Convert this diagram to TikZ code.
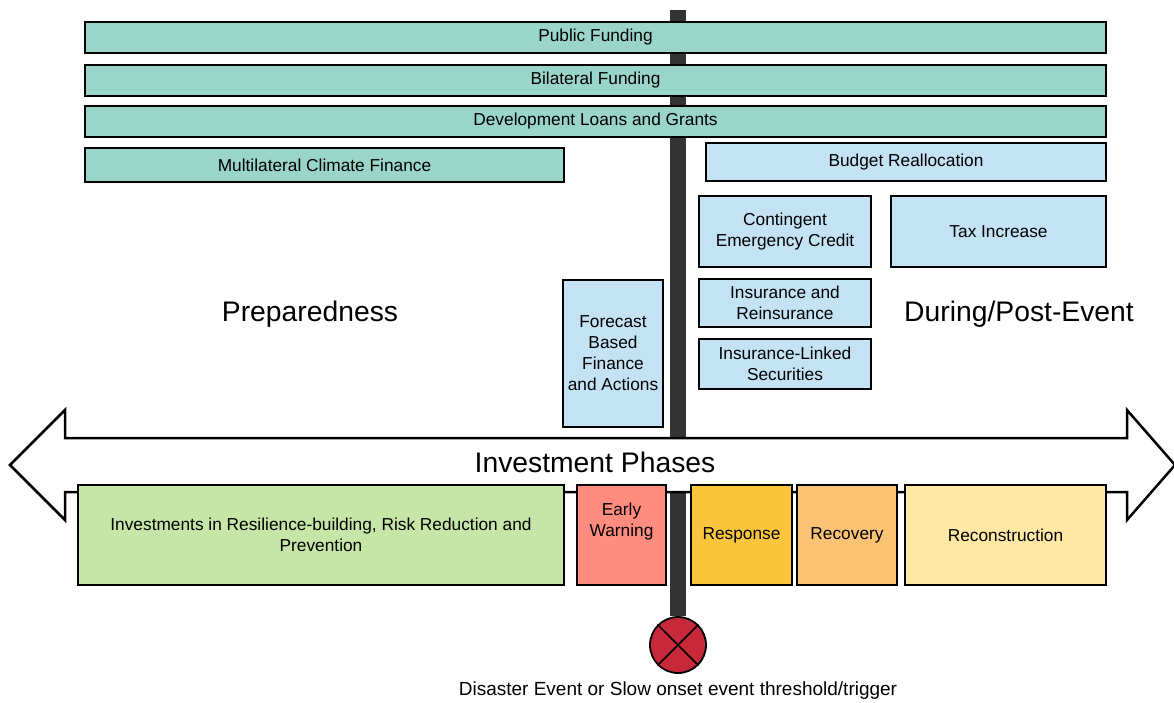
\documentclass[tikz,border=0pt]{standalone}
\usepackage{fontspec}
\setmainfont{Liberation Sans}
\usetikzlibrary{positioning}

\definecolor{fundteal}{HTML}{9AD5CA}
\definecolor{instblue}{HTML}{C3E3F5}
\definecolor{prevgreen}{HTML}{C5E6A7}
\definecolor{warnred}{HTML}{FF8C7F}
\definecolor{respyellow}{HTML}{FBC43D}
\definecolor{recovorange}{HTML}{FDC374}
\definecolor{reconyellow}{HTML}{FFE8A4}
\definecolor{bargray}{HTML}{333333}
\definecolor{triggerred}{HTML}{C7283A}

\newcommand{\boxfont}{\fontsize{17.3}{21}\selectfont}
\newcommand{\bigfont}{\fontsize{28.3}{32}\selectfont}

\begin{document}
\begin{tikzpicture}[x=1pt, y=-1pt,
    fundbar/.style={draw, line width=2.5pt, fill=fundteal, inner sep=0pt, font=\boxfont, align=center},
    instbox/.style={fundbar, fill=instblue},
    phasebox/.style={fundbar, minimum height=100pt}]
    \useasboundingbox (0,0) rectangle (1174,702);
    % Trigger
    \coordinate (bartop) at (678,10);
    \node[draw, circle, line width=1.8pt, fill=triggerred, minimum size=56pt, inner sep=0pt] (trigger) at (678,645) {};
    \draw[line width=1.6pt] (trigger.45) -- (trigger.225) (trigger.135) -- (trigger.315);
    \draw[bargray, line width=16pt] (bartop) -- (trigger.north);
    % Phase arrow
    \draw[line width=2.5pt, fill=white, line join=miter] (10,465) -- (65,410) -- (65,438) -- (1127,438) -- (1127,410)
        -- (1175,465) -- (1127,520) -- (1127,492) -- (65,492) -- (65,520) -- cycle;
    \node[font=\bigfont] (phases) at (595,462) {Investment Phases};
    % Funding sources
    \node[fundbar, minimum width=1021pt, minimum height=31pt] (pub) at (595.5,37.5) {Public Funding};
    \node[fundbar, minimum width=1021pt, minimum height=31pt] (bil) at (595.5,80.5) {Bilateral Funding};
    \node[fundbar, minimum width=1021pt, minimum height=31pt] (dev) at (595.5,121.5) {Development Loans and Grants};
    \node[fundbar, minimum width=479pt, minimum height=34pt] (multi) at (324.5,165) {Multilateral Climate Finance};
    % Instruments
    \node[instbox, minimum width=400pt, minimum height=38pt] (budget) at (906,162) {Budget Reallocation};
    \node[instbox, minimum width=172pt, minimum height=71pt] (credit) at (785,231.5) {Contingent\\Emergency Credit};
    \node[instbox, minimum width=215pt, minimum height=71pt] (tax) at (998.5,231.5) {Tax Increase};
    \node[instbox, minimum width=172pt, minimum height=48pt] (insur) at (785,303) {Insurance and\\Reinsurance};
    \node[instbox, minimum width=172pt, minimum height=50pt] (ils) at (785,364) {Insurance-Linked\\Securities};
    \node[instbox, minimum width=100pt, minimum height=147pt] (fbf) at (613,353.5) {Forecast\\Based\\Finance\\and Actions};
    % Periods
    \node[font=\bigfont] (prep) at (310,314) {Preparedness};
    \node[font=\bigfont] (post) at (1019,314) {During/Post-Event};
    % Phases
    \node[phasebox, fill=prevgreen, minimum width=486pt] (invest) at (321,535) {Investments in Resilience-building, Risk Reduction and\\Prevention};
    \node[phasebox, fill=warnred, minimum width=89pt,
        label={[align=center, font=\boxfont, yshift=13pt]center:{Early\\Warning}}] (warn) at (621.5,535) {};
    \node[phasebox, fill=respyellow, minimum width=101pt] (resp) at (741.5,535) {Response};
    \node[phasebox, fill=recovorange, minimum width=100pt] (recov) at (847,535) {Recovery};
    \node[phasebox, fill=reconyellow, minimum width=201pt] (recon) at (1005.5,535) {Reconstruction};
    % Trigger note
    \node[font=\fontsize{19}{22}\selectfont] (note) at (678,691) {Disaster Event or Slow onset event threshold/trigger};
\end{tikzpicture}
\end{document}
